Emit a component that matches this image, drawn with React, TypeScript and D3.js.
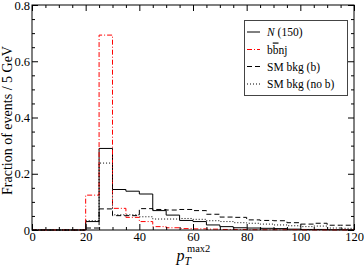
import React, { useRef, useEffect } from "react";
import * as d3 from "d3";

// left edges of the 5 GeV bins
const binEdges = [0, 5, 10, 15, 20, 25, 30, 35, 40, 45, 50, 55, 60, 65, 70, 75, 80, 85, 90, 95, 100, 105, 110, 115];
const binWidth = 5;

const heavyN = [0, 0, 0, 0, 0.03, 0.29, 0.144, 0.138, 0.128, 0.069, 0.053, 0.034, 0.03, 0.018, 0.012, 0.008, 0.007, 0.006, 0.005, 0.003, 0.002, 0.002, 0.001, 0.001];
const bbnj = [0, 0, 0, 0, 0.124, 0.693, 0.077, 0.045, 0.03, 0.012, 0.008, 0.005, 0.004, 0.003, 0.002, 0.002, 0.001, 0.001, 0.001, 0.001, 0, 0, 0, 0];
const smB = [0, 0, 0, 0, 0.007, 0.075, 0.051, 0.051, 0.076, 0.073, 0.071, 0.073, 0.069, 0.056, 0.046, 0.045, 0.036, 0.034, 0.033, 0.026, 0.021, 0.024, 0.017, 0.017];
const smNoB = [0, 0, 0, 0, 0.033, 0.238, 0.054, 0.054, 0.047, 0.039, 0.039, 0.041, 0.038, 0.033, 0.03, 0.026, 0.024, 0.021, 0.018, 0.015, 0.012, 0.014, 0.007, 0.006];

const xTicks = [0, 20, 40, 60, 80, 100, 120];
const yTicks = [0, 0.2, 0.4, 0.6, 0.8];

const series = [
  { label: "N", values: heavyN, color: "#000", dash: null },
  { label: "bbnj", values: bbnj, color: "#ff0000", dash: "5,2,1,2" },
  { label: "SM bkg (b)", values: smB, color: "#000", dash: "5,3" },
  { label: "SM bkg (no b)", values: smNoB, color: "#000", dash: "1,2" },
];

const FONT = "Liberation Serif, DejaVu Serif, Times New Roman, serif";

export default function App() {
  const ref = useRef<SVGSVGElement>(null);

  useEffect(() => {
    const width = 364;
    const height = 267;
    const left = 32, right = 354, top = 5, bottom = 230;

    const svg = d3.select(ref.current);
    svg.selectAll("*").remove();
    svg.attr("width", width).attr("height", height).style("font-family", FONT);

    const x = d3.scaleLinear().domain([0, 120]).range([left, right]);
    const y = d3.scaleLinear().domain([0, 0.8]).range([bottom, top]);

    svg.append("rect").attr("width", width).attr("height", height).attr("fill", "#fff");

    // histograms
    const line = d3.line<[number, number]>()
      .x(d => x(d[0]))
      .y(d => y(d[1]))
      .curve(d3.curveStepAfter);

    series.forEach(s => {
      const pts: [number, number][] = binEdges.map((e, i) => [e, s.values[i]]);
      pts.push([binEdges[binEdges.length - 1] + binWidth, s.values[s.values.length - 1]]);
      svg.append("path")
        .attr("d", line(pts))
        .attr("fill", "none")
        .attr("stroke", s.color)
        .attr("stroke-width", 1)
        .attr("stroke-dasharray", s.dash);
    });

    // frame
    svg.append("rect")
      .attr("x", left).attr("y", top)
      .attr("width", right - left).attr("height", bottom - top)
      .attr("fill", "none").attr("stroke", "#000").attr("stroke-width", 1);

    const xMinor = d3.range(0, 121, 5).filter(v => v % 20 !== 0);
    const yMinor = d3.range(0, 0.801, 0.05).filter(v => Math.abs(v * 5 - Math.round(v * 5)) > 1e-6);

    const styleAxis = (g: any) => {
      g.attr("font-family", null).attr("font-size", null);
      g.select(".domain").remove();
      g.selectAll("line").attr("stroke", "#000");
      g.selectAll("text").style("font-family", FONT).style("font-size", "12.5px").attr("fill", "#000");
    };

    svg.append("g").attr("transform", `translate(0,${bottom})`)
      .call(d3.axisBottom(x).tickValues(xTicks).tickSize(-6).tickPadding(2).tickFormat(d3.format("d")))
      .call(styleAxis);
    svg.append("g").attr("transform", `translate(0,${bottom})`)
      .call(d3.axisBottom(x).tickValues(xMinor).tickSize(-3).tickFormat(() => ""))
      .call(styleAxis);
    svg.append("g").attr("transform", `translate(0,${top})`)
      .call(d3.axisTop(x).tickValues(xTicks).tickSize(-6).tickFormat(() => ""))
      .call(styleAxis);
    svg.append("g").attr("transform", `translate(0,${top})`)
      .call(d3.axisTop(x).tickValues(xMinor).tickSize(-3).tickFormat(() => ""))
      .call(styleAxis);

    svg.append("g").attr("transform", `translate(${left},0)`)
      .call(d3.axisLeft(y).tickValues(yTicks).tickSize(-6).tickPadding(2).tickFormat(d => d === 0 ? "0" : d3.format(".1f")(d as number)))
      .call(styleAxis);
    svg.append("g").attr("transform", `translate(${left},0)`)
      .call(d3.axisLeft(y).tickValues(yMinor).tickSize(-3).tickFormat(() => ""))
      .call(styleAxis);
    svg.append("g").attr("transform", `translate(${right},0)`)
      .call(d3.axisRight(y).tickValues(yTicks).tickSize(-6).tickFormat(() => ""))
      .call(styleAxis);
    svg.append("g").attr("transform", `translate(${right},0)`)
      .call(d3.axisRight(y).tickValues(yMinor).tickSize(-3).tickFormat(() => ""))
      .call(styleAxis);

    // axis titles
    svg.append("text")
      .attr("transform", `translate(12,${(top + bottom) / 2 + 3}) rotate(-90)`)
      .attr("text-anchor", "middle")
      .style("font-size", "14px")
      .text("Fraction of events / 5 GeV");

    const xt = svg.append("g");
    xt.append("text").attr("x", 176.5).attr("y", 261).style("font-size", "16px").attr("font-style", "italic").text("p");
    xt.append("text").attr("x", 184.5).attr("y", 265).style("font-size", "11.5px").attr("font-style", "italic").text("T");
    xt.append("text").attr("x", 187).attr("y", 252).style("font-size", "10.5px").text("max2");

    // legend
    const lg = svg.append("g");
    lg.append("rect")
      .attr("x", 244.5).attr("y", 20.5).attr("width", 103).attr("height", 75)
      .attr("fill", "#fff").attr("stroke", "#444").attr("stroke-width", 1);

    const rowY = [32, 49.5, 66.5, 84];
    series.forEach((s, i) => {
      lg.append("line")
        .attr("x1", 247).attr("x2", 260)
        .attr("y1", rowY[i]).attr("y2", rowY[i])
        .attr("stroke", s.color).attr("stroke-width", 1)
        .attr("stroke-dasharray", s.dash);
      const t = lg.append("text")
        .attr("x", 267).attr("y", rowY[i] + 4)
        .style("font-size", "11.5px");
      if (i === 0) {
        t.append("tspan").attr("font-style", "italic").text("N");
        t.append("tspan").text(" (150)");
      } else if (i === 1) {
        t.append("tspan").text("b");
        t.append("tspan").attr("text-decoration", "overline").text("b");
        t.append("tspan").text("nj");
      } else {
        t.text(s.label);
      }
    });
  }, []);

  return <svg ref={ref} style={{ position: "absolute", left: 0, top: 0, display: "block" }}></svg>;
}
